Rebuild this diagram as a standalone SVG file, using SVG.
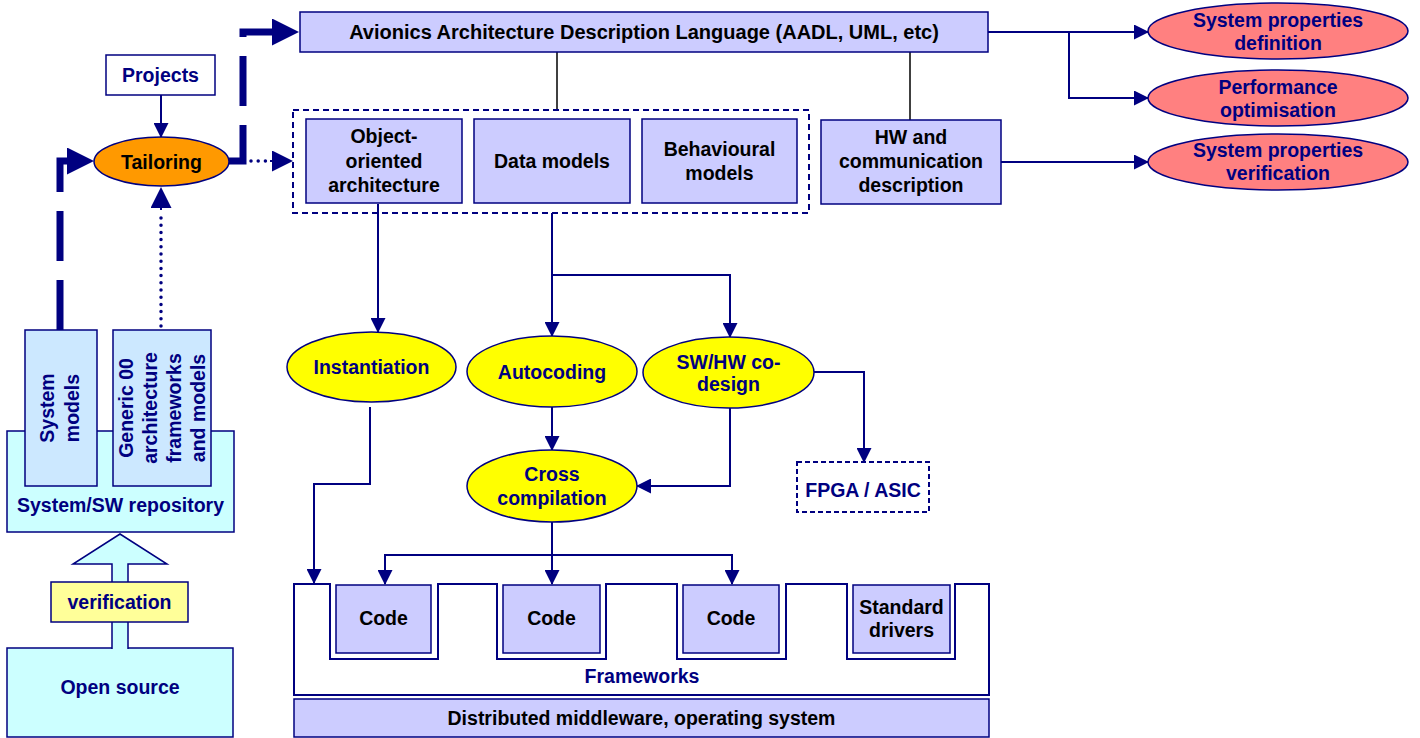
<svg xmlns="http://www.w3.org/2000/svg" width="1420" height="738" viewBox="0 0 1420 738">
<defs>
<style>
text{font-family:"Liberation Sans",Arial,sans-serif;font-weight:bold;font-size:19.5px;text-anchor:middle}
.n{fill:#000080}
.k{fill:#000000}
.box{fill:#ccccff;stroke:#000080;stroke-width:1.5}
.yel{fill:#ffff00;stroke:#000080;stroke-width:1.5}
.red{fill:#ff8080;stroke:#000080;stroke-width:1.5}
.cy{fill:#ccffff;stroke:#000080;stroke-width:1.5}
.cb{fill:#cce8ff;stroke:#000080;stroke-width:1.5}
.ln{fill:none;stroke:#000080;stroke-width:2}
.blk{fill:none;stroke:#000000;stroke-width:1.5}
.thick{fill:none;stroke:#000080;stroke-width:7;stroke-dasharray:50 19}
.dot{fill:none;stroke:#000080;stroke-width:3.5;stroke-linecap:round;stroke-dasharray:0 7.2}
</style>
<marker id="a" markerUnits="userSpaceOnUse" markerWidth="15" markerHeight="15" viewBox="0 0 15 15" refX="14" refY="7.5" orient="auto"><path d="M0,0 L15,7.5 L0,15 Z" fill="#000080"/></marker>
<marker id="b" markerUnits="userSpaceOnUse" markerWidth="27" markerHeight="27" viewBox="0 0 27 27" refX="0" refY="13.5" orient="auto"><path d="M0,0 L27,13.5 L0,27 Z" fill="#000080"/></marker>
<marker id="d" markerUnits="userSpaceOnUse" markerWidth="21" markerHeight="21" viewBox="0 0 21 21" refX="0" refY="10.5" orient="auto"><path d="M0,0 L21,10.5 L0,21 Z" fill="#000080"/></marker>
</defs>
<rect width="1420" height="738" fill="#ffffff"/>

<g id="connectors">
<path class="ln" d="M161,95 V137" marker-end="url(#a)"/>
<path class="thick" d="M60,330 V161 H67" marker-end="url(#b)"/>
<path class="thick" d="M229,161 H243 V32 H272" marker-end="url(#b)"/>
<path class="dot" d="M251,161 H268" />
<path class="ln" d="M270,161 H272" stroke-width="0" marker-end="url(#d)"/>
<path class="dot" d="M161,326 V212"/>
<path class="ln" d="M161,210 V208" stroke-width="0" marker-end="url(#d)"/>
<path class="blk" d="M557,52 V110"/>
<path class="blk" d="M910,52 V120"/>
<path class="ln" d="M988,32 H1148" marker-end="url(#a)"/>
<path class="ln" d="M1069,32 V98 H1148" marker-end="url(#a)"/>
<path class="ln" d="M1001,162 H1148" marker-end="url(#a)"/>
<path class="ln" d="M378,204 V332" marker-end="url(#a)"/>
<path class="ln" d="M552,213 V336" marker-end="url(#a)"/>
<path class="ln" d="M552,275 H730 V337" marker-end="url(#a)"/>
<path class="ln" d="M552,407 V450" marker-end="url(#a)"/>
<path class="ln" d="M730,408 V486 H637" marker-end="url(#a)"/>
<path class="ln" d="M814,372 H864 V462" marker-end="url(#a)"/>
<path class="ln" d="M370,407 V484 H314 V583" marker-end="url(#a)"/>
<path class="ln" d="M552,522 V584" marker-end="url(#a)"/>
<path class="ln" d="M552,555 H385 V584" marker-end="url(#a)"/>
<path class="ln" d="M552,555 H732 V584" marker-end="url(#a)"/>
</g>

<g id="adl">
<rect class="box" x="300" y="12" width="688" height="40"/>
<text class="k" x="644" y="39" style="font-size:20px">Avionics Architecture Description Language (AADL, UML, etc)</text>
</g>

<g id="projects">
<rect x="106" y="55" width="109" height="40" fill="#ffffff" stroke="#000080" stroke-width="1.5"/>
<text class="n" x="160.5" y="82">Projects</text>
</g>

<g id="tailoring">
<ellipse cx="161.5" cy="161.5" rx="67.5" ry="24.5" fill="#ff9900" stroke="#000080" stroke-width="1.5"/>
<text class="k" x="161.5" y="168.5">Tailoring</text>
</g>

<g id="models-group">
<rect x="293" y="110" width="516" height="103" fill="none" stroke="#000080" stroke-width="2" stroke-dasharray="6 4"/>
</g>
<g id="oo">
<rect class="box" x="306" y="119" width="156" height="84"/>
<text class="k" x="384" y="143">Object-</text>
<text class="k" x="384" y="168">oriented</text>
<text class="k" x="384" y="192">architecture</text>
</g>
<g id="data">
<rect class="box" x="474" y="119" width="156" height="84"/>
<text class="k" x="552" y="168">Data models</text>
</g>
<g id="behav">
<rect class="box" x="642" y="119" width="155" height="84"/>
<text class="k" x="719.5" y="156">Behavioural</text>
<text class="k" x="719.5" y="180">models</text>
</g>
<g id="hw">
<rect class="box" x="821" y="120" width="180" height="84"/>
<text class="k" x="911" y="144">HW and</text>
<text class="k" x="911" y="168">communication</text>
<text class="k" x="911" y="192">description</text>
</g>

<g id="spdef">
<ellipse class="red" cx="1278" cy="31" rx="130" ry="28"/>
<text class="n" x="1278" y="27">System properties</text>
<text class="n" x="1278" y="50">definition</text>
</g>
<g id="perf">
<ellipse class="red" cx="1278" cy="98" rx="130" ry="28"/>
<text class="n" x="1278" y="94">Performance</text>
<text class="n" x="1278" y="117">optimisation</text>
</g>
<g id="spver">
<ellipse class="red" cx="1278" cy="162" rx="130" ry="28"/>
<text class="n" x="1278" y="157">System properties</text>
<text class="n" x="1278" y="180">verification</text>
</g>

<g id="inst">
<ellipse class="yel" cx="371.5" cy="367" rx="84.5" ry="35"/>
<text class="n" x="371.5" y="374">Instantiation</text>
</g>
<g id="autocoding">
<ellipse class="yel" cx="552" cy="371.5" rx="85" ry="35.5"/>
<text class="n" x="552" y="379">Autocoding</text>
</g>
<g id="codesign">
<ellipse class="yel" cx="728.5" cy="372.5" rx="85.5" ry="35.5"/>
<text class="n" x="728.5" y="369">SW/HW co-</text>
<text class="n" x="728.5" y="391">design</text>
</g>
<g id="cross">
<ellipse class="yel" cx="552" cy="486" rx="85" ry="36"/>
<text class="n" x="552" y="481">Cross</text>
<text class="n" x="552" y="505">compilation</text>
</g>
<g id="fpga">
<rect x="797" y="462" width="132" height="50" fill="#ffffff" stroke="#000080" stroke-width="2" stroke-dasharray="5 3"/>
<text class="n" x="863" y="497">FPGA / ASIC</text>
</g>

<g id="frameworks">
<path d="M294,584 H330 V659 H438 V584 H497 V659 H606 V584 H677 V659 H786 V584 H847 V659 H955 V584 H989 V695 H294 Z" fill="#ffffff" stroke="#000080" stroke-width="2"/>
<text class="n" x="642" y="683">Frameworks</text>
</g>
<g id="code1">
<rect class="box" x="336" y="585" width="95" height="68"/>
<text class="k" x="383.5" y="625">Code</text>
</g>
<g id="code2">
<rect class="box" x="503" y="585" width="97" height="68"/>
<text class="k" x="551.5" y="625">Code</text>
</g>
<g id="code3">
<rect class="box" x="683" y="585" width="96" height="68"/>
<text class="k" x="731" y="625">Code</text>
</g>
<g id="drivers">
<rect class="box" x="853" y="585" width="97" height="68"/>
<text class="k" x="901.5" y="614">Standard</text>
<text class="k" x="901.5" y="637">drivers</text>
</g>
<g id="middleware">
<rect class="box" x="294" y="699" width="695" height="38"/>
<text class="k" x="641.5" y="725">Distributed middleware, operating system</text>
</g>

<g id="repository">
<rect class="cy" x="7" y="431" width="227" height="101"/>
<text class="n" x="120.5" y="512">System/SW repository</text>
</g>
<g id="sysmodels">
<rect class="cb" x="25" y="330" width="72" height="156"/>
<text class="n" transform="translate(54,408) rotate(-90)">System</text>
<text class="n" transform="translate(79,408) rotate(-90)">models</text>
</g>
<g id="generic">
<rect class="cb" x="113" y="330" width="98" height="156"/>
<text class="n" transform="translate(133,408) rotate(-90)">Generic 00</text>
<text class="n" transform="translate(157,408) rotate(-90)">architecture</text>
<text class="n" transform="translate(181,408) rotate(-90)">frameworks</text>
<text class="n" transform="translate(205,408) rotate(-90)">and models</text>
</g>
<g id="opensource">
<rect class="cy" x="7" y="648" width="226" height="89"/>
<text class="n" x="120" y="694">Open source</text>
</g>
<g id="verif-arrow">
<polygon points="120,534 167,564 128,564 128,649.5 112,649.5 112,564 73,564" fill="#ccffff"/>
<polyline points="112,649 112,564 73,564 120,534 167,564 128,564 128,649" fill="none" stroke="#000080" stroke-width="1.5"/>
</g>
<g id="verification">
<rect x="51" y="582" width="137" height="40" fill="#ffff99" stroke="#000080" stroke-width="1.5"/>
<text class="n" x="119.5" y="609">verification</text>
</g>
</svg>
